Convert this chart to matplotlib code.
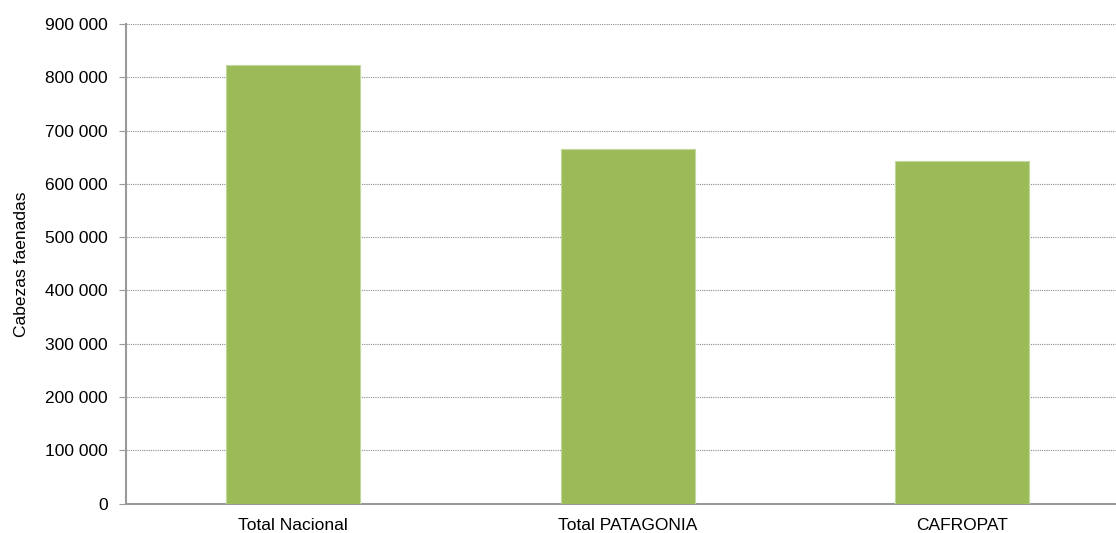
import matplotlib
matplotlib.use("Agg")
import matplotlib.pyplot as plt
from matplotlib.ticker import FuncFormatter, MultipleLocator

# Data
categories = ["Total Nacional", "Total PATAGONIA", "CAFROPAT"]
cabezas = [822500, 665000, 643000]

plt.rcParams["font.family"] = ["Liberation Sans", "DejaVu Sans"]

fig = plt.figure(figsize=(11.16, 5.33), dpi=100)
# right edge of plot area runs past the image border, as in the reference
ax = fig.add_axes([0.1129, 0.055, 0.899, 0.9])

x = range(len(categories))
ax.bar(x, cabezas, width=0.4, color="#9BBB59", edgecolor="#C3D69B",
       linewidth=0.8, zorder=3)

ax.set_xlim(-0.5, len(categories) - 0.5)
ax.set_ylim(0, 900000)
ax.yaxis.set_major_locator(MultipleLocator(100000))
ax.yaxis.set_major_formatter(
    FuncFormatter(lambda v, p: f"{int(v):,}".replace(",", " ")))

ax.set_xticks(list(x))
ax.set_xticklabels(categories)

ax.grid(axis="y", linestyle=(0, (1, 1)), color="#8c8c8c", linewidth=0.8, zorder=0)

for s in ["top", "right"]:
    ax.spines[s].set_visible(False)
for s in ["left", "bottom"]:
    ax.spines[s].set_color("#9a9a9a")
    ax.spines[s].set_linewidth(1.5)

ax.tick_params(axis="y", length=5, color="#9a9a9a", labelsize=12.5, pad=8)
ax.tick_params(axis="x", length=0, labelsize=12.5, pad=10)

ax.set_ylabel("Cabezas faenadas", fontsize=12.5, labelpad=12)

fig.savefig("out.png", dpi=100)
